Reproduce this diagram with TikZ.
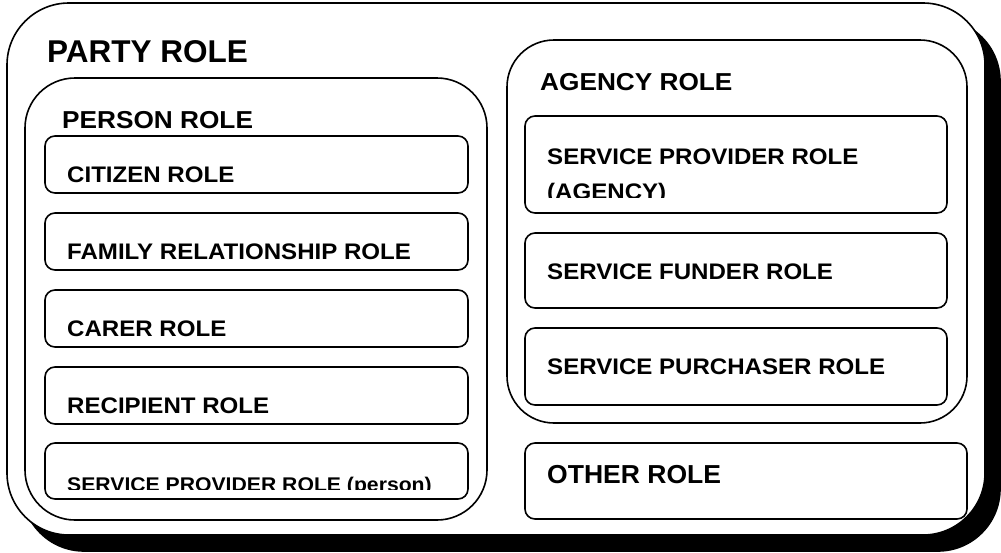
\documentclass[tikz,border=0pt]{standalone}
\usepackage{fontspec}
\setmainfont{Liberation Sans}
\usepackage{graphicx}
\newcommand\rbox[6]{\node[boxline, rounded corners=#6, minimum width={(#4-#2)*1pt}, minimum height={(#5-#3)*1pt}] (#1) at ({(#2+#4)/2},{(#3+#5)/2}) {};}
\newcommand\tlabel[6]{\node[lbl, font=\fontsize{#4}{#4}\selectfont\bfseries] (#1) at (#2,#3) {\scalebox{#5}[1]{#6}};}
\begin{document}
\begin{tikzpicture}[x=1pt,y=-1pt,
  boxline/.style={draw, line width=1.6pt, fill=white, inner sep=0pt, rectangle},
  lbl/.style={anchor=base west, inner sep=0pt, text=black}]
\useasboundingbox (0,0) rectangle (1001,552);
% shadow + outer
\node[draw, fill=black, line width=1.6pt, rounded corners=62, inner sep=0pt, minimum width=978pt, minimum height=532pt] (shadow) at (511,285) {};
\rbox{party}{7}{3}{985}{535}{62}
\tlabel{partyt}{47}{62}{31.5}{1}{PARTY ROLE}
% person role
\rbox{person}{25}{78}{487}{520}{50}
\tlabel{persont}{62}{128}{24.5}{1.07}{PERSON ROLE}
\rbox{citizen}{45}{136}{468}{193}{10}
\tlabel{citizent}{67}{182}{22.5}{1.07}{CITIZEN ROLE}
\rbox{family}{45}{213}{468}{270}{10}
\tlabel{familyt}{67}{259}{22.5}{1.07}{FAMILY RELATIONSHIP ROLE}
\rbox{carer}{45}{290}{468}{347}{10}
\tlabel{carert}{67}{336}{22.5}{1.07}{CARER ROLE}
\rbox{recip}{45}{367}{468}{424}{10}
\tlabel{recipt}{67}{413}{22.5}{1.07}{RECIPIENT ROLE}
\rbox{spp}{45}{443}{468}{499}{10}
\begin{scope}
\clip (45,443) rectangle (468,489);
\tlabel{sppt}{67}{491}{19.8}{1.07}{SERVICE PROVIDER ROLE (person)}
\end{scope}
% agency role
\rbox{agency}{507}{40}{967}{423}{47}
\tlabel{agencyt}{540}{90}{24.5}{1.07}{AGENCY ROLE}
\rbox{spa}{525}{116}{947}{213}{10}
\tlabel{spat}{547}{164}{22.5}{1.07}{SERVICE PROVIDER ROLE}
\begin{scope}
\clip (525,116) rectangle (947,197);
\tlabel{spat2}{547}{199}{22.5}{1.07}{(AGENCY)}
\end{scope}
\rbox{funder}{525}{233}{947}{308}{10}
\tlabel{fundert}{547}{279}{22.5}{1.07}{SERVICE FUNDER ROLE}
\rbox{purch}{525}{328}{947}{405}{10}
\tlabel{purcht}{547}{374}{22.5}{1.07}{SERVICE PURCHASER ROLE}
% other role
\rbox{other}{525}{443}{967}{519}{10}
\tlabel{othert}{547}{483}{26}{1.02}{OTHER ROLE}
\end{tikzpicture}
\end{document}
